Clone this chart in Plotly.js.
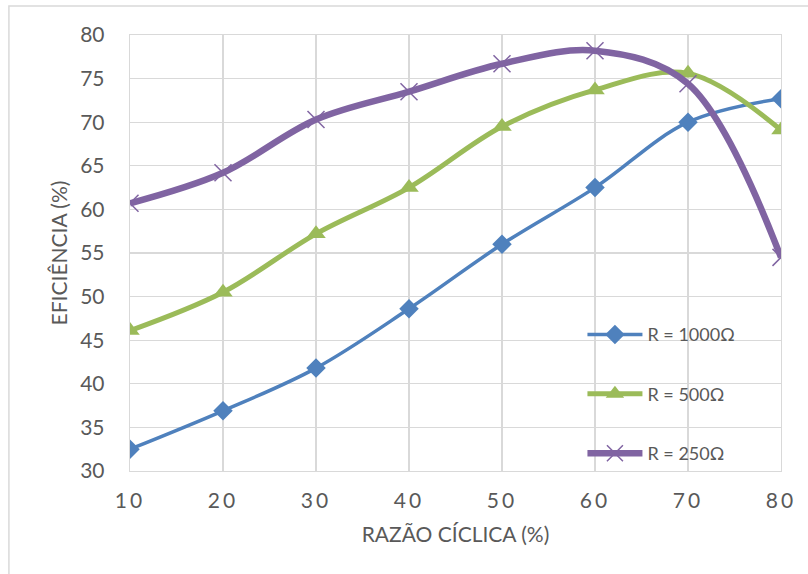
<!DOCTYPE html>
<html>
<head>
<meta charset="utf-8">
<script src="https://cdn.plot.ly/plotly-3.0.1.min.js"></script>
<style>
  html, body { margin: 0; padding: 0; background: #fff; }
  #chart { width: 808px; height: 574px; }
</style>
</head>
<body>
<div id="chart"></div>
<script>
// Duty cycle (%) on the horizontal axis
const dutyCycle = [10, 20, 30, 40, 50, 60, 70, 80];

// Efficiency (%) for each load resistance
const eff1000 = [32.5, 36.9, 41.8, 48.6, 56.0, 62.5, 70.0, 72.7];
const eff500  = [46.1, 50.5, 57.2, 62.5, 69.5, 73.7, 75.6, 69.1];
const eff250  = [60.7, 64.2, 70.3, 73.5, 76.7, 78.2, 74.4, 54.5];

const seriesNames = ['R = 1000Ω', 'R = 500Ω', 'R = 250Ω'];

const xTicks = [10, 20, 30, 40, 50, 60, 70, 80];
const yTicks = [30, 35, 40, 45, 50, 55, 60, 65, 70, 75, 80];

const FONT = 'Lato, "Open Sans", sans-serif';
const GRAY = '#595959';
const GRID = '#d9d9d9';

const traces = [
  {
    x: dutyCycle, y: eff1000, name: seriesNames[0], legendgroup: 'a',
    mode: 'lines+markers',
    line: { color: '#4f81bd', width: 3.5, shape: 'spline', smoothing: 1 },
    marker: { symbol: 'diamond', size: 15, color: '#4f81bd' }
  },
  {
    x: dutyCycle, y: eff500, name: seriesNames[1], legendgroup: 'b',
    mode: 'lines+markers',
    line: { color: '#9bbb59', width: 5, shape: 'spline', smoothing: 1 },
    marker: { symbol: 'triangle-up', size: 17, color: '#9bbb59' }
  },
  {
    x: dutyCycle, y: eff250, name: seriesNames[2], legendgroup: 'c',
    mode: 'lines+markers',
    line: { color: '#8064a2', width: 6.5, shape: 'spline', smoothing: 1 },
    marker: { symbol: 'x-thin', size: 17, color: '#8064a2',
              line: { color: '#8064a2', width: 1.5 } }
  }
];

const layout = {
  width: 808, height: 574,
  margin: { l: 130, r: 27, t: 35, b: 103 },
  paper_bgcolor: '#fff', plot_bgcolor: '#fff',
  font: { family: FONT, color: GRAY },
  showlegend: true,
  legend: {
    x: 0.695, y: 0.355, xanchor: 'left', yanchor: 'top',
    bgcolor: 'rgba(0,0,0,0)',
    font: { family: FONT, size: 18, color: GRAY },
    traceorder: 'grouped', tracegroupgap: 33,
    itemwidth: 55
  },
  xaxis: {
    range: [10, 80], tickvals: xTicks,
    ticks: '', ticklabelstandoff: 10,
    tickfont: { family: FONT, size: 21, color: GRAY },
    showgrid: true, gridcolor: GRID, gridwidth: 1.3,
    showline: true, linecolor: GRID, linewidth: 1.3, mirror: true,
    zeroline: false, fixedrange: true,
    title: { text: 'RAZÃO CÍCLICA (%)', standoff: 16,
             font: { family: FONT, size: 21, color: GRAY } }
  },
  yaxis: {
    range: [30, 80], tickvals: yTicks,
    ticks: '', ticklabelstandoff: 20,
    tickfont: { family: FONT, size: 21, color: GRAY },
    showgrid: true, gridcolor: GRID, gridwidth: 1.3,
    showline: true, linecolor: GRID, linewidth: 1.3, mirror: true,
    zeroline: false, fixedrange: true,
    title: { text: 'EFICIÊNCIA (%)', standoff: 6,
             font: { family: FONT, size: 21, color: GRAY } }
  },
  shapes: [
    // outer chart frame
    { type: 'rect', xref: 'paper', yref: 'paper',
      x0: -0.186, x1: 1.2, y0: -0.4, y1: 1.0665,
      line: { color: GRID, width: 1.5 }, fillcolor: 'rgba(0,0,0,0)', layer: 'below' }
  ]
};

Plotly.newPlot('chart', traces, layout, { displayModeBar: false, staticPlot: true })
  .then(function (gd) {
    // widen the spacing of the duty-cycle tick digits
    gd.querySelectorAll('.xtick text').forEach(function (t) {
      t.style.letterSpacing = '3px';
    });
  });
</script>
</body>
</html>
